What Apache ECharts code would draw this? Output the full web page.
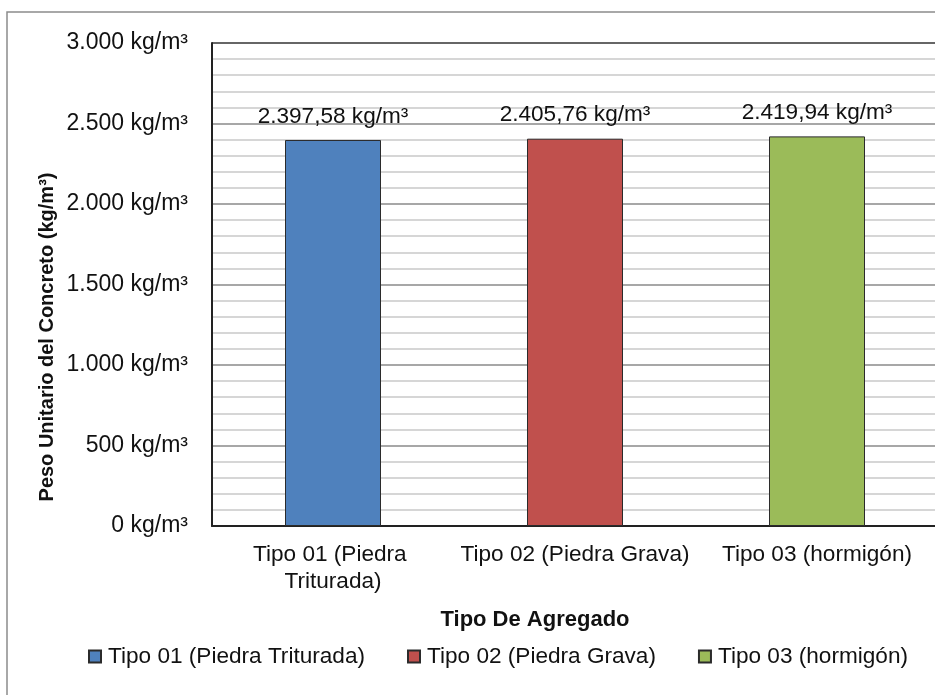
<!DOCTYPE html>
<html>
<head>
<meta charset="utf-8">
<script src="https://cdn.jsdelivr.net/npm/echarts@6/dist/echarts.min.js"></script>
<style>
  html, body { margin: 0; padding: 0; background: #ffffff; overflow: hidden; }
  #chart { width: 940px; height: 695px; }
</style>
</head>
<body>
<div id="chart"></div>
<script>
// Aggregate types and the measured unit weight of concrete for each one
const categories = ['Tipo 01 (Piedra Triturada)', 'Tipo 02 (Piedra Grava)', 'Tipo 03 (hormigón)'];
const pesoUnitario = [2397.58, 2405.76, 2419.94];
const barColors = ['#4f81bd', '#c0504d', '#9bbb59'];
const yTicks = [0, 500, 1000, 1500, 2000, 2500, 3000];

const FONT = '"Liberation Sans", Arial, sans-serif';
const FS = 22.6;

// Spanish number format: "." thousands separator, "," decimal separator
function fmtEs(v, decimals) {
  const parts = v.toFixed(decimals).split('.');
  const intPart = parts[0].replace(/\B(?=(\d{3})+(?!\d))/g, '.');
  return parts.length > 1 ? intPart + ',' + parts[1] : intPart;
}

// One series per aggregate type so the legend gets one entry each;
// every series only fills its own category slot.
const series = categories.map((name, i) => ({
  name: name,
  type: 'bar',
  barWidth: 96,
  barGap: '-100%',
  data: categories.map((_, j) => (j === i ? pesoUnitario[i] : '-')),
  itemStyle: { color: barColors[i], borderColor: '#2b2b2b', borderWidth: 1 },
  label: {
    show: true,
    position: 'top',
    distance: 12,
    color: '#111',
    fontFamily: FONT,
    fontSize: FS,
    formatter: p => fmtEs(p.value, 2) + ' kg/m³'
  }
}));

const splitColors = yTicks.map((t, i) => (i === yTicks.length - 1 ? '#333333' : '#8a8a8a'));

// The plot runs a few pixels past the right edge of the visible page
const chart = echarts.init(document.getElementById('chart'), null, { renderer: 'canvas' });
chart.setOption({
  backgroundColor: '#ffffff',
  animation: false,
  textStyle: { fontFamily: FONT },
  grid: { left: 212, top: 43, right: 2, bottom: 169, containLabel: false },
  xAxis: {
    type: 'category',
    data: categories,
    axisLine: { show: true, lineStyle: { color: '#222', width: 2 } },
    axisTick: { show: false },
    axisLabel: {
      interval: 0,
      margin: 15,
      color: '#111',
      fontFamily: FONT,
      fontSize: FS,
      lineHeight: 27,
      width: 240,
      overflow: 'break'
    }
  },
  yAxis: {
    type: 'value',
    min: yTicks[0],
    max: yTicks[yTicks.length - 1],
    interval: 500,
    axisLine: { show: true, lineStyle: { color: '#222', width: 2 } },
    axisTick: { show: false },
    axisLabel: {
      margin: 24,
      color: '#111',
      fontFamily: FONT,
      fontSize: 23,
      formatter: v => fmtEs(v, 0) + ' kg/m³'
    },
    splitLine: { show: true, lineStyle: { color: splitColors, width: 1.5 } },
    minorTick: { show: false, splitNumber: 5 },
    minorSplitLine: { show: true, lineStyle: { color: '#d6d6d6', width: 2 } }
  },
  legend: {
    left: 83,
    top: 640,
    itemWidth: 12,
    itemHeight: 12,
    itemGap: 42,
    icon: 'rect',
    textStyle: { color: '#111', fontFamily: FONT, fontSize: FS, padding: [0, 0, 0, 2] },
    data: categories
  },
  graphic: [
    {
      type: 'rect',
      silent: true,
      z: -1,
      shape: { x: 7, y: 12, width: 1000, height: 800 },
      style: { fill: 'none', stroke: '#8c8c8c', lineWidth: 1.5 }
    },
    {
      type: 'text',
      x: 47,
      y: 337,
      rotation: Math.PI / 2,
      style: {
        text: 'Peso Unitario del Concreto (kg/m³)',
        font: 'bold 20px ' + FONT,
        fill: '#111',
        align: 'center',
        verticalAlign: 'middle'
      }
    },
    {
      type: 'text',
      x: 535,
      y: 620,
      style: {
        text: 'Tipo De Agregado',
        font: 'bold 22px ' + FONT,
        fill: '#111',
        align: 'center',
        verticalAlign: 'middle'
      }
    }
  ],
  series: series
});
</script>
</body>
</html>
